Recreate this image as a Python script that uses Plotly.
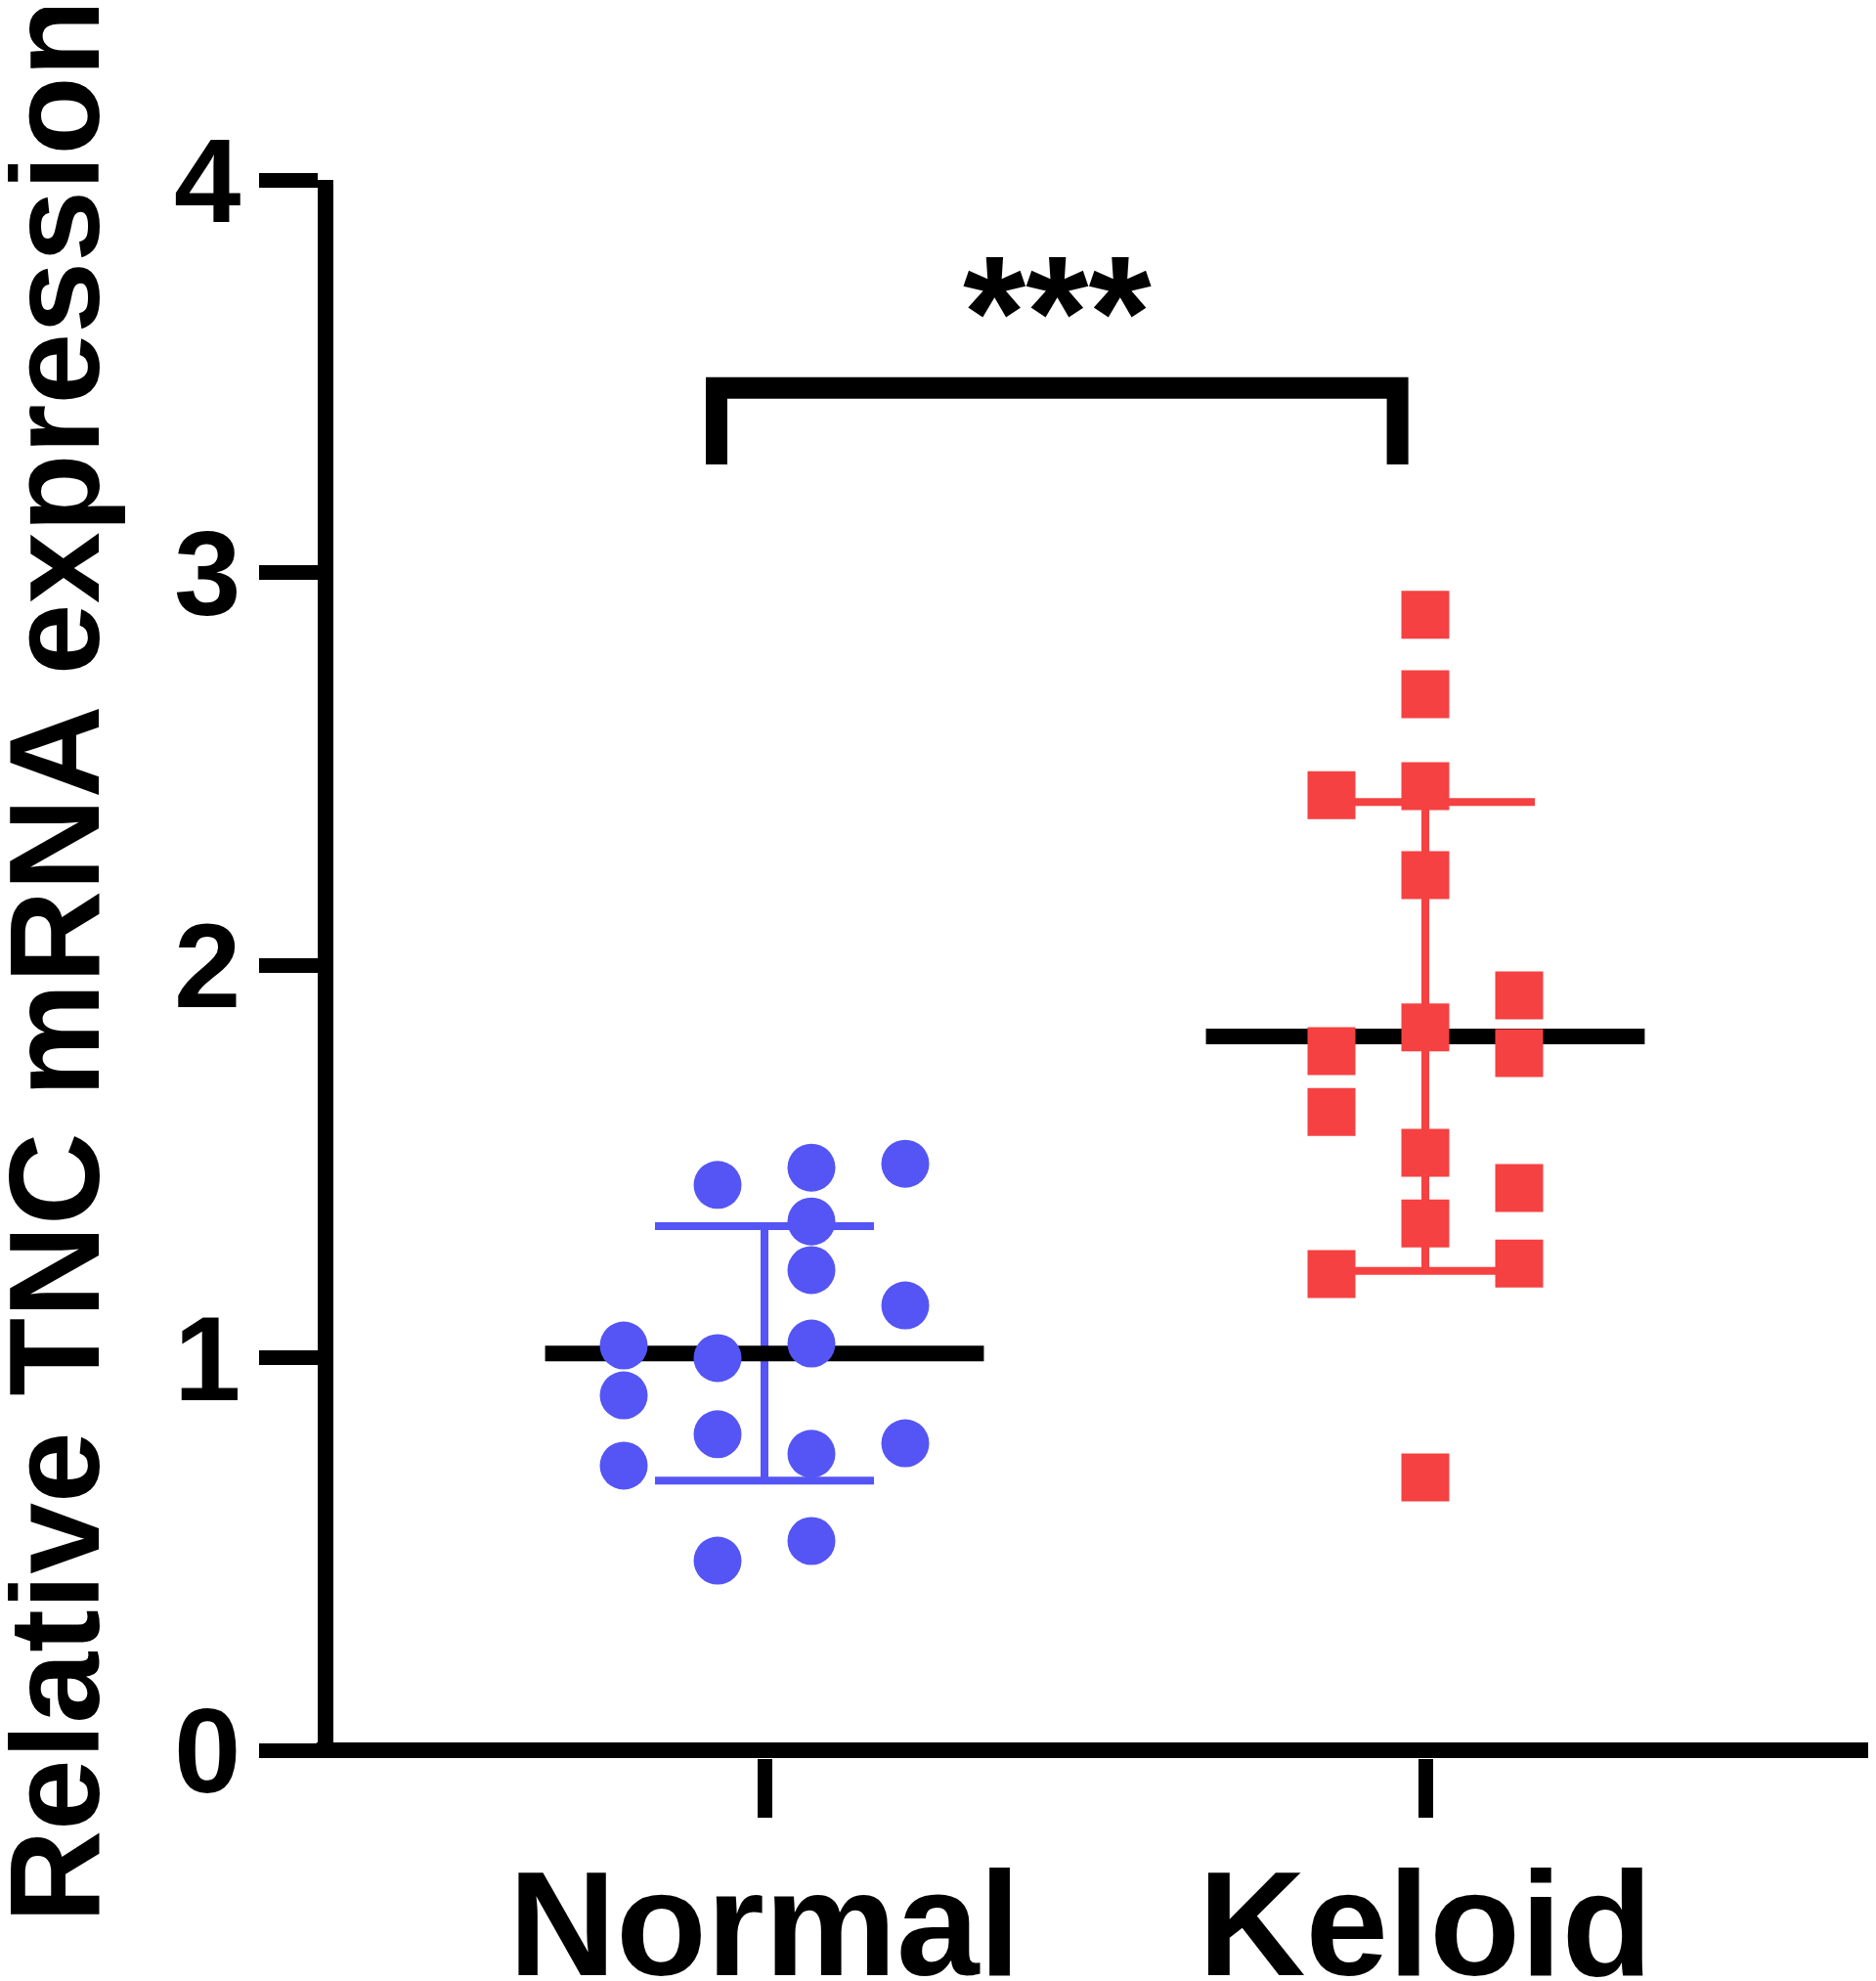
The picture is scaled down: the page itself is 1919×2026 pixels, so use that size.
import numpy as np
import plotly.graph_objects as go

# ---- data ----
groups = ["Normal", "Keloid"]
normal_values = [1.440, 1.484, 1.494, 1.347, 1.223, 1.133, 1.031, 0.999,
                 1.036, 0.904, 0.805, 0.782, 0.725, 0.755, 0.533, 0.483]
normal_cols = [-0.5, 0.5, 1.5, 0.5, 0.5, 1.5, -1.5, -0.5,
               0.5, -1.5, -0.5, 1.5, -1.5, 0.5, 0.5, -0.5]
keloid_values = [2.892, 2.690, 2.433, 2.456, 2.229, 1.923, 1.841, 1.781,
                 1.776, 1.626, 1.522, 1.432, 1.342, 1.240, 1.213, 0.695]
keloid_cols = [0, 0, -1, 0, 0, 1, 0, -1,
               1, -1, 0, 1, 0, 1, -1, 0]
y_ticks = [0, 1, 2, 3, 4]
y_title = "Relative TNC mRNA expression"
significance = "***"

# ---- style ----
BLUE = "#5555F5"
RED = "#F54141"
FONT = "Liberation Sans, Arial, Helvetica, sans-serif"
COL_STEP = 0.142      # horizontal spacing between scatter columns (category units)
MEAN_HALF = 0.332     # half-width of mean line (category units)
CAP_PX = 112          # half-width of error-bar caps (px)
BRACKET = dict(x0=-0.0725, x1=0.958, y=3.47, leg=0.195)

fig = go.Figure()

series = [
    (0, normal_values, normal_cols, BLUE, "circle"),
    (1, keloid_values, keloid_cols, RED, "square"),
]

# error bars (mean +/- SD)
for gx, vals, cols, color, sym in series:
    v = np.array(vals)
    m, sd = v.mean(), v.std(ddof=1)
    fig.add_trace(go.Scatter(
        x=[gx], y=[m], mode="markers",
        marker=dict(size=1, opacity=0),
        error_y=dict(type="data", array=[sd], visible=True,
                     color=color, thickness=8, width=CAP_PX),
        showlegend=False, hoverinfo="skip"))

# mean lines
for gx, vals, cols, color, sym in series:
    m = float(np.mean(vals))
    fig.add_trace(go.Scatter(
        x=[gx - MEAN_HALF, gx + MEAN_HALF], y=[m, m], mode="lines",
        line=dict(color="black", width=16), showlegend=False, hoverinfo="skip"))

# individual points
for gx, vals, cols, color, sym in series:
    xs = [gx + c * COL_STEP for c in cols]
    fig.add_trace(go.Scatter(
        x=xs, y=vals, mode="markers",
        marker=dict(symbol=sym, size=49, color=color, line=dict(width=0)),
        showlegend=False))

# x axis baseline drawn at y = 0
fig.add_shape(type="line", xref="paper", yref="y", x0=-0.011, x1=1, y0=0, y1=0,
              line=dict(color="black", width=16), layer="above")

# significance bracket
b = BRACKET
fig.add_shape(type="path",
              path=(f"M {b['x0']},{b['y'] - b['leg']} L {b['x0']},{b['y']} "
                    f"L {b['x1']},{b['y']} L {b['x1']},{b['y'] - b['leg']}"),
              xref="x", yref="y", line=dict(color="black", width=22))
fig.add_annotation(x=(b["x0"] + b["x1"]) / 2, y=b["y"], xref="x", yref="y",
                   text=f"<b>{significance}</b>", showarrow=False,
                   yanchor="bottom", yshift=-17,
                   font=dict(family=FONT, size=165, color="black"))

# y-axis title (as rotated annotation so it can sit at the very edge)
fig.add_annotation(x=-0.2296, y=0.505, xref="paper", yref="paper",
                   text=f"<b>{y_title}</b>", showarrow=False, textangle=-90,
                   xanchor="left", yanchor="middle",
                   font=dict(family=FONT, size=131, color="black"))

fig.update_layout(
    width=1911, height=2018,
    margin=dict(l=333, r=6, t=176, b=228, autoexpand=False),
    plot_bgcolor="white", paper_bgcolor="white",
    font=dict(family=FONT, color="black"),
)
fig.update_xaxes(
    range=[-0.6524, 1.6731], tickvals=[0, 1], ticktext=[f"<b>{g}</b>" for g in groups],
    tickfont=dict(family=FONT, size=152, color="black"),
    showline=False,
    ticks="outside", ticklen=60, tickwidth=15, tickcolor="black",
    ticklabelstandoff=-21,
    showgrid=False, zeroline=False, automargin=False,
)
fig.update_yaxes(
    range=[-8 / 401.5, 4], tickvals=y_ticks, ticktext=[f"<b>{t}</b>" for t in y_ticks],
    tickfont=dict(family=FONT, size=123, color="black"),
    showline=True, linecolor="black", linewidth=16,
    ticks="outside", ticklen=60, tickwidth=15, tickcolor="black",
    ticklabelstandoff=-6,
    showgrid=False, zeroline=False, automargin=False,
)
for tr in fig.data:
    tr.cliponaxis = False

fig.write_html("out.html")
